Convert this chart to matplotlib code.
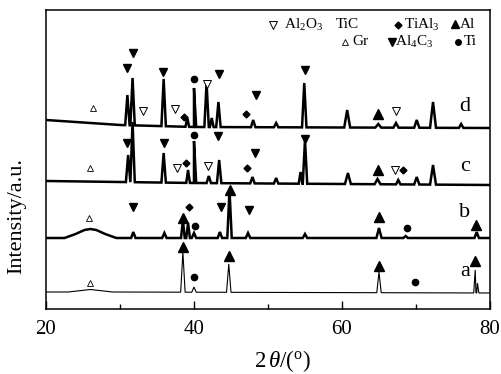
import numpy as np
import matplotlib
matplotlib.use('Agg')
from matplotlib import pyplot as plt

plt.rcParams['font.family'] = ['Liberation Serif', 'DejaVu Serif']
plt.rcParams['mathtext.fontset'] = 'custom'
plt.rcParams['mathtext.rm'] = 'Liberation Serif'
plt.rcParams['mathtext.it'] = 'Liberation Serif:italic'

# baselines (2theta, intensity) of the four patterns, incl. the broad graphite hump
base_a_x = [20, 23, 26, 29, 80]
base_a_y = [17, 17, 19.5, 17, 16]
base_b_x = [20, 22.5, 24, 25.2, 26, 26.8, 28, 29.5, 80]
base_b_y = [71, 71, 75, 79, 80, 79, 75, 71, 71]
base_c_x = [20, 40, 80]
base_c_y = [128, 126, 124]
base_d_x = [20, 30, 40, 80]
base_d_y = [189, 184, 182, 181]

# peaks: position, tip intensity, half width
peak_a_pos = [38.5, 40.0, 44.7, 65.0, 78.0, 78.3]
peak_a_tip = [57, 22, 45, 37, 39, 26]
peak_a_hw = [0.3, 0.3, 0.3, 0.3, 0.2, 0.2]

peak_b_pos = [31.8, 36.0, 38.5, 39.2, 40.0, 43.5, 44.8, 47.3, 55.0, 65.0, 68.6, 78.2]
peak_b_tip = [77, 76, 89, 86, 76, 77, 119, 76, 75, 81, 73, 77]
peak_b_hw = [0.3, 0.3, 0.25, 0.25, 0.3, 0.3, 0.3, 0.3, 0.3, 0.35, 0.3, 0.3]

peak_c_pos = [31.1, 31.7, 35.9, 39.2, 40.0, 42.0, 43.4, 47.9, 51.1, 54.4, 55.0,
              60.8, 64.8, 67.6, 70.1, 72.3]
peak_c_tip = [154, 187, 156, 139, 168, 133, 149, 132, 131, 137, 169,
              136, 130, 129, 132, 144]
peak_c_hw = [0.3, 0.3, 0.3, 0.25, 0.3, 0.3, 0.3, 0.3, 0.3, 0.25, 0.3,
             0.4, 0.4, 0.3, 0.35, 0.4]

peak_d_pos = [31.0, 31.7, 35.9, 39.1, 40.0, 41.7, 42.4, 43.3, 48.0, 51.1, 54.9,
              60.7, 64.9, 67.3, 70.1, 72.3, 76.1]
peak_d_tip = [214, 231, 230, 191, 221, 226, 191, 207, 189, 186, 226,
              199, 185, 186, 189, 207, 185]
peak_d_hw = [0.3, 0.3, 0.3, 0.25, 0.3, 0.3, 0.25, 0.3, 0.3, 0.3, 0.3,
             0.4, 0.4, 0.35, 0.35, 0.4, 0.3]

# phase markers (2theta, intensity)
al4c3_x = [30.9, 31.7, 35.8, 43.4, 48.4, 55.0, 30.9, 35.9, 43.2, 48.2, 55.0, 31.8, 43.6, 47.4]
al4c3_y = [241, 256, 237, 235, 214, 239, 166, 166, 173, 156, 170, 102, 102, 99]
al_x = [64.8, 64.9, 38.5, 44.9, 65.0, 78.1, 38.5, 44.7, 65.0, 78.0]
al_y = [195, 139, 91, 119, 92, 84, 62, 53, 43, 48]
tial3_x = [38.6, 47.0, 38.9, 47.2, 68.2, 39.3]
tial3_y = [192, 195, 146, 141, 139, 102]
ti_x = [40.0, 40.0, 40.1, 68.8, 40.0, 69.9]
ti_y = [230, 174, 83, 81, 32, 27]
al2o3_x = [33.1, 37.4, 41.8, 67.3, 37.7, 41.9, 67.2]
al2o3_y = [198, 200, 225, 198, 141, 143, 139]
gr_x = [26.4, 25.9, 25.8, 25.9]
gr_y = [201, 141, 91, 26]

pattern_labels = ['a', 'b', 'c', 'd']
pattern_label_y = [37, 96, 142, 202]


def trace(bx, by, pos, tip, hw):
    xs = list(bx)
    ys = list(by)
    for p, t, w in zip(pos, tip, hw):
        xs += [p - w, p, p + w]
        ys += [np.interp(p - w, bx, by), t, np.interp(p + w, bx, by)]
    order = np.argsort(xs, kind='stable')
    return np.array(xs)[order], np.array(ys)[order]


fig = plt.figure(figsize=(5.02, 3.74), dpi=100)
ax = fig.add_axes([0.0916, 0.1738, 0.8845, 0.7995])

patterns = [
    (base_a_x, base_a_y, peak_a_pos, peak_a_tip, peak_a_hw, 0.8),
    (base_b_x, base_b_y, peak_b_pos, peak_b_tip, peak_b_hw, 1.8),
    (base_c_x, base_c_y, peak_c_pos, peak_c_tip, peak_c_hw, 1.8),
    (base_d_x, base_d_y, peak_d_pos, peak_d_tip, peak_d_hw, 1.8),
]
for bx, by, pos, tip, hw, lw in patterns:
    x, y = trace(bx, by, pos, tip, hw)
    ax.plot(x, y, color='black', lw=lw, solid_joinstyle='miter')

filled = dict(color='black', ls='none')
ax.plot(al4c3_x, al4c3_y, marker='v', ms=6, **filled)
ax.plot(al_x, al_y, marker='^', ms=6.5, **filled)
ax.plot(tial3_x, tial3_y, marker='D', ms=3.5, **filled)
ax.plot(ti_x, ti_y, marker='o', ms=4.5, **filled)
ax.plot(al2o3_x, al2o3_y, marker='v', ms=6, mfc='white', mec='black', mew=0.7, ls='none')
ax.plot(gr_x, gr_y, marker='^', ms=5, mfc='white', mec='black', mew=0.6, ls='none')

for lab, ly in zip(pattern_labels, pattern_label_y):
    ax.text(76.6, ly, lab, fontsize=16, ha='center', va='center')

# legend
tr = ax.transAxes
leg = dict(transform=tr, fontsize=11, va='center', ha='left')
ax.plot([0.511], [0.95], marker='v', ms=6, mfc='white', mec='black', mew=0.7, transform=tr)
ax.text(0.535, 0.95, r'Al$_2$O$_3$', **leg)
ax.text(0.652, 0.95, 'TiC', **leg)
ax.plot([0.793], [0.95], marker='D', ms=3.5, color='black', transform=tr)
ax.text(0.807, 0.95, r'TiAl$_3$', **leg)
ax.plot([0.921], [0.952], marker='^', ms=6, color='black', transform=tr)
ax.text(0.931, 0.95, 'Al', **leg)
ax.plot([0.673], [0.893], marker='^', ms=5, mfc='white', mec='black', mew=0.6, transform=tr)
ax.text(0.689, 0.893, 'Gr', **leg)
ax.plot([0.779], [0.893], marker='v', ms=5.5, color='black', transform=tr)
ax.text(0.787, 0.893, r'Al$_4$C$_3$', **leg)
ax.plot([0.928], [0.893], marker='o', ms=4, color='black', transform=tr)
ax.text(0.942, 0.893, 'Ti', **leg)

ax.set_xlim(20, 80)
ax.set_ylim(0, 299)
ax.set_xticks([20, 40, 60, 80])
ax.set_xticks([30, 50, 70], minor=True)
ax.set_yticks([])
ax.tick_params(axis='x', which='major', direction='in', length=6, width=1, labelsize=15, pad=8)
ax.tick_params(axis='x', which='minor', direction='in', length=3.5, width=1)
for s in ax.spines.values():
    s.set_linewidth(1.1)

ax.set_xlabel(r'2$\,\theta$/($^{\rm o}$)', fontsize=16.5)
ax.xaxis.set_label_coords(0.533, -0.13)
ax.set_ylabel('Intensity/a.u.', fontsize=16)
ax.yaxis.set_label_coords(-0.045, 0.31)

fig.savefig('out.png', dpi=100)
